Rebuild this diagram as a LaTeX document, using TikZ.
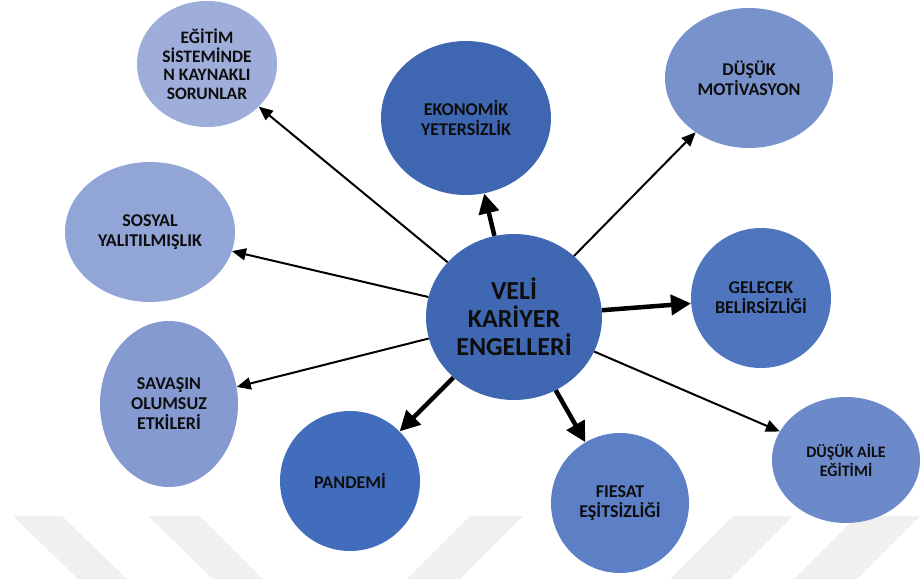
\documentclass[tikz,border=0pt]{standalone}
\usepackage{fontspec}
\setmainfont{Carlito}
\usetikzlibrary{shapes.geometric, arrows.meta}

\definecolor{cEgitim}{HTML}{9EADDA}
\definecolor{cEko}{HTML}{3F66B0}
\definecolor{cMotiv}{HTML}{7892CC}
\definecolor{cSosyal}{HTML}{91A5D7}
\definecolor{cVeli}{HTML}{4068B2}
\definecolor{cGelecek}{HTML}{4F75BF}
\definecolor{cSavas}{HTML}{849AD1}
\definecolor{cPandemi}{HTML}{416DBC}
\definecolor{cFirsat}{HTML}{5C7FC5}
\definecolor{cAile}{HTML}{6C8ACA}

\tikzset{
  bubble/.style={ellipse, inner sep=0pt, align=center, text=black!95,
    font=\bfseries\fontsize{18}{20}\selectfont},
  thin arrow/.style={-{Triangle[length=14pt,width=12pt]}, line width=2pt},
  thick arrow/.style={-{Triangle[length=20pt,width=20pt]}, line width=4.5pt},
}

\begin{document}
\begin{tikzpicture}[x=1pt, y=1pt]
      \useasboundingbox (0,0) rectangle (920,579);
      % Watermark stripes:
      \foreach \a/\b/\c/\d in {13/62/127/78, 148/200/263/213, 470/523/460/407, 733/793/730/670, 857/920/857/794}
        \fill[black!6] (\a,63) -- (\b,63) -- (\c,0) -- (\d,0) -- cycle;
      % Bubbles:
      \node[bubble, fill=cVeli, minimum width=176pt, minimum height=166pt, font=\bfseries\fontsize{26}{28}\selectfont] (veli) at (514,262) {VELİ\\KARİYER\\ENGELLERİ};
      \node[bubble, fill=cEgitim, minimum width=140pt, minimum height=126pt, font=\bfseries\fontsize{17.5}{18.5}\selectfont] (egitim) at (207,515) {EĞİTİM\\SİSTEMİNDE\\N KAYNAKLI\\SORUNLAR};
      \node[bubble, fill=cEko, minimum width=170pt, minimum height=154pt] (eko) at (466,461) {EKONOMİK\\YETERSİZLİK};
      \node[bubble, fill=cMotiv, minimum width=168pt, minimum height=140pt] (motiv) at (749,501) {DÜŞÜK\\MOTİVASYON};
      \node[bubble, fill=cSosyal, minimum width=170pt, minimum height=140pt] (sosyal) at (150,347) {SOSYAL\\YALITILMIŞLIK};
      \node[bubble, fill=cGelecek, minimum width=140pt, minimum height=140pt] (gelecek) at (761,281) {GELECEK\\BELİRSİZLİĞİ};
      \node[bubble, fill=cSavas, minimum width=138pt, minimum height=166pt] (savas) at (169,175) {SAVAŞIN\\OLUMSUZ\\ETKİLERİ};
      \node[bubble, fill=cPandemi, minimum width=140pt, minimum height=140pt] (pandemi) at (350,98) {PANDEMİ};
      \node[bubble, fill=cFirsat, minimum width=138pt, minimum height=140pt] (firsat) at (620,76) {FIESAT\\EŞİTSİZLİĞİ};
      \node[bubble, fill=cAile, minimum width=148pt, minimum height=126pt, font=\bfseries\fontsize{16}{19}\selectfont] (aile) at (846,119) {DÜŞÜK AİLE\\EĞİTİMİ};
      % Arrows:
      \foreach \t in {egitim, motiv, sosyal, savas, aile} \draw[thin arrow] (veli) -- (\t);
      \foreach \t in {eko, gelecek, pandemi, firsat} \draw[thick arrow] (veli) -- (\t);
\end{tikzpicture}
\end{document}
